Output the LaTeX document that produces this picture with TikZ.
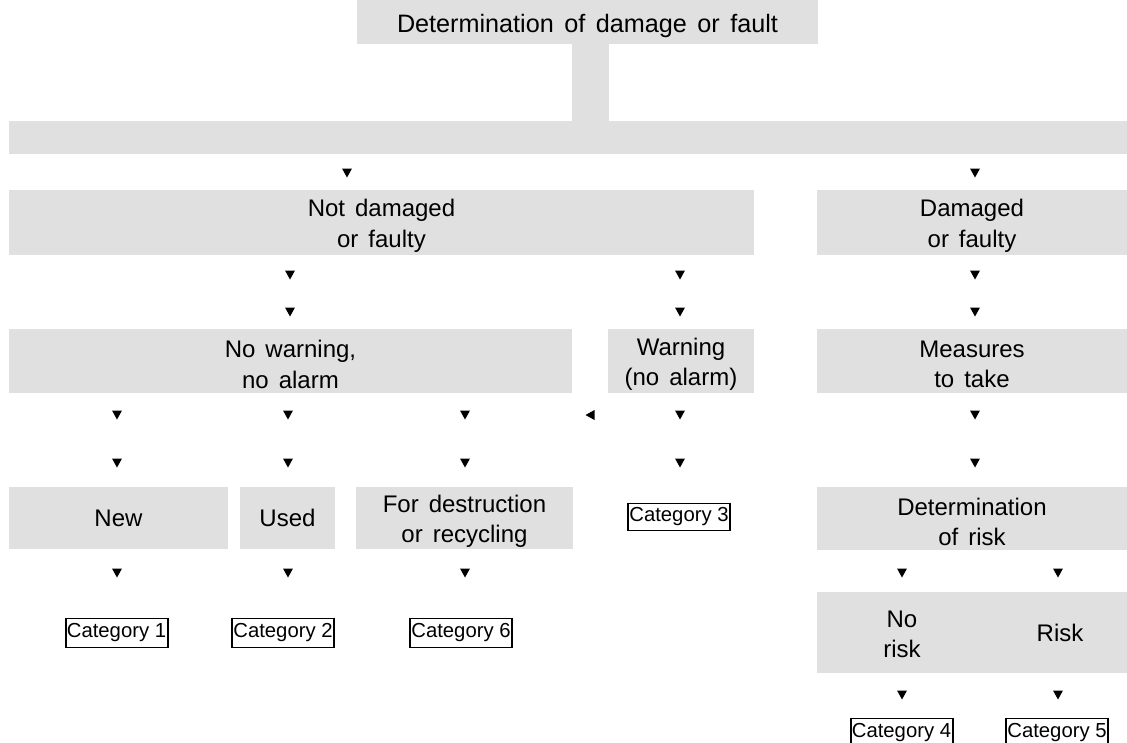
\documentclass[tikz,border=0pt]{standalone}
\usepackage{fontspec}
\setmainfont[WordSpace=1.5]{Liberation Sans}
\newfontfamily\catfamily{Liberation Sans}
\definecolor{boxgray}{RGB}{224,224,224}
\begin{document}
\begin{tikzpicture}[x=1pt,y=-1pt,
  gbox/.style={fill=boxgray, draw=none, inner sep=0pt, align=center, font=\fontsize{24}{29.5}\selectfont},
  gtext/.style={inner sep=0pt, align=center, font=\fontsize{24}{30.5}\selectfont},
  txt/.style={label={[gtext, yshift=-3.5pt]center:#1}},
  catbox/.style={draw=black, line width=1pt, inner sep=0pt, minimum width=101pt, minimum height=29pt, font=\catfamily\fontsize{20.3}{22}\selectfont},
  dtri/.pic={\fill[black] (-5,-4.5) -- (5,-4.5) -- (0,4.5) -- cycle;},
  ltri/.pic={\fill[black] (4.5,-5) -- (4.5,5) -- (-4.5,0) -- cycle;}
]
\useasboundingbox (0,0) rectangle (1127,742);
% gray boxes
\node[gbox, minimum width=461pt, minimum height=44pt, font=\fontsize{25.2}{28}\selectfont, text height=26.6pt, text depth=5.4pt] (top) at (587.5,22) {Determination of damage or fault};
\node[gbox, minimum width=37pt, minimum height=79pt] (stem) at (590.5,82.5) {};
\node[gbox, minimum width=1118pt, minimum height=33pt] (bar) at (568,137.5) {};
\node[gbox, minimum width=745pt, minimum height=65pt, txt={Not damaged\\or faulty}] (notdmg) at (381.5,222.5) {};
\node[gbox, minimum width=310pt, minimum height=65pt, txt={Damaged\\or faulty}] (dmg) at (972,222.5) {};
\node[gbox, minimum width=563pt, minimum height=64pt, txt={No warning,\\no alarm}] (nowarn) at (290.5,361) {};
\node[gbox, minimum width=146pt, minimum height=64pt, txt={Warning\\(no alarm)}] (warn) at (681,361) {};
\node[gbox, minimum width=310pt, minimum height=64pt, txt={Measures\\to take}] (measures) at (972,361) {};
\node[gbox, minimum width=219pt, minimum height=62pt] (new) at (118.5,518) {New};
\node[gbox, minimum width=95pt, minimum height=62pt] (used) at (287.5,518) {Used};
\node[gbox, minimum width=217pt, minimum height=62pt, txt={For destruction\\or recycling}] (destr) at (464.5,518) {};
\node[gbox, minimum width=310pt, minimum height=63pt, txt={Determination\\of risk}] (detrisk) at (972,518.5) {};
\node[gbox, minimum width=310pt, minimum height=81pt] (riskbox) at (972,632.5) {};
\node[gtext, yshift=-2pt] (norisk) at (902,632.5) {No\\risk};
\node[gtext] (risk) at (1060,632.5) {Risk};
% categories
\node[catbox] (cat1) at (116.5,632.5) {Category 1};
\node[catbox] (cat2) at (283,632.5) {Category 2};
\node[catbox] (cat6) at (461,632.5) {Category 6};
\node[catbox, minimum height=27pt] (cat3) at (679,516.5) {Category 3};
\node[catbox] (cat4) at (901.5,732.5) {Category 4};
\node[catbox] (cat5) at (1057,732.5) {Category 5};
\foreach \c in {cat1,cat2,cat6,cat3,cat4,cat5}{
  \draw[line width=2pt] (\c.north west) -- (\c.south west) (\c.north east) -- (\c.south east);
}
% arrow heads
\foreach \x/\y in {347/173, 975/173,
  290/275, 680/275, 975/275,
  290/312, 680/312, 975/312,
  117/415, 288/415, 465/415, 680/415, 975/415,
  117/463, 288/463, 465/463, 680/463, 975/463,
  117/573, 288/573, 465/573, 902/573, 1058/573,
  902/695, 1058/695}
  \pic at (\x,\y) {dtri};
\pic at (590,415) {ltri};
\end{tikzpicture}
\end{document}
